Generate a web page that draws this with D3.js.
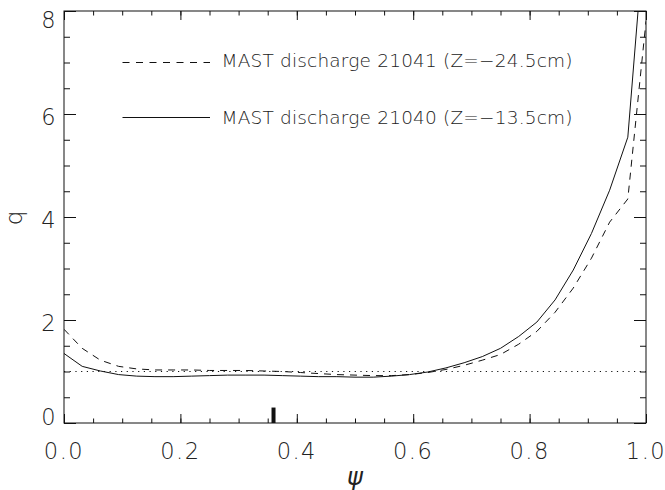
<!DOCTYPE html>
<html>
<head>
<meta charset="utf-8">
<script src="https://cdn.jsdelivr.net/npm/d3@7/dist/d3.min.js"></script>
<style>
  html, body { margin: 0; padding: 0; background: #fff; }
  svg { display: block; }
  text { font-family: "DejaVu Sans", sans-serif; font-weight: 200; fill: #222; }
</style>
</head>
<body>
<svg id="chart" width="665" height="490"></svg>
<script>
// Safety factor q against normalised flux psi, sampled on a 1/32 grid
const psi = d3.range(33).map(k => k / 32);

// MAST discharge 21041 (Z = -24.5 cm), drawn dashed
const q21041 = [
  1.82, 1.45, 1.22, 1.10, 1.05, 1.03, 1.03, 1.03, 1.02, 1.02, 1.02,
  1.01, 1.00, 0.98, 0.96, 0.94, 0.93, 0.92, 0.92, 0.94, 0.98, 1.04,
  1.12, 1.22, 1.33, 1.53, 1.78, 2.15, 2.62, 3.20, 3.90, 4.35, 7.80
];

// MAST discharge 21040 (Z = -13.5 cm), drawn solid
const q21040 = [
  1.35, 1.10, 1.01, 0.94, 0.91, 0.90, 0.90, 0.91, 0.92, 0.93, 0.93,
  0.93, 0.92, 0.91, 0.90, 0.90, 0.89, 0.89, 0.91, 0.94, 0.99, 1.07,
  1.17, 1.29, 1.45, 1.68, 1.96, 2.39, 2.97, 3.68, 4.52, 5.55, 9.90
];

const seriesNames = [
  "MAST discharge 21041 (Z=\u221224.5cm)",
  "MAST discharge 21040 (Z=\u221213.5cm)"
];

// Reference level q = 1 and the marker on the psi axis
const qRef = 1;
const markerPsi = 0.36;
const markerHeight = 0.3;

const xMajor = [0, 0.2, 0.4, 0.6, 0.8, 1.0];
const xMinor = d3.range(0, 1.0001, 0.05);
const yMajor = [0, 2, 4, 6, 8];
const yMinor = d3.range(0, 8.0001, 0.5);

const svg = d3.select("#chart");
const L = 64, R = 646, T = 11, B = 423;

const x = d3.scaleLinear().domain([0, 1]).range([L, R]);
const y = d3.scaleLinear().domain([0, 8]).range([B, T]);

const ink = "#111";

svg.append("defs").append("clipPath").attr("id", "plot")
  .append("rect").attr("x", L).attr("y", T).attr("width", R - L).attr("height", B - T);

// Inward-pointing ticks on all four sides
function ticks(axisFn, scale, values, size, tx, ty) {
  const g = svg.append("g")
    .attr("transform", `translate(${tx},${ty})`)
    .call(axisFn(scale).tickValues(values).tickSize(size).tickFormat(""));
  g.select(".domain").remove();
  g.selectAll(".tick line").attr("stroke", ink).attr("stroke-width", 1);
  return g;
}
ticks(d3.axisBottom, x, xMinor, -4.5, 0, B);
ticks(d3.axisBottom, x, xMajor, -9, 0, B);
ticks(d3.axisTop, x, xMinor, -4.5, 0, T);
ticks(d3.axisTop, x, xMajor, -9, 0, T);
ticks(d3.axisLeft, y, yMinor, -6, L, 0);
ticks(d3.axisLeft, y, yMajor, -12, L, 0);
ticks(d3.axisRight, y, yMinor, -6, R, 0);
ticks(d3.axisRight, y, yMajor, -12, R, 0);

// Frame
svg.append("rect")
  .attr("x", L).attr("y", T).attr("width", R - L).attr("height", B - T)
  .attr("fill", "none").attr("stroke", ink).attr("stroke-width", 1);

// Tick labels
svg.append("g").selectAll("text").data(xMajor).join("text")
  .attr("x", d => x(d)).attr("y", 458.5)
  .attr("text-anchor", "middle")
  .attr("font-size", 22.5)
  .attr("letter-spacing", 1.5)
  .text(d => d3.format(".1f")(d));

svg.append("g").selectAll("text").data(yMajor).join("text")
  .attr("x", 55.5)
  .attr("y", d => Math.max(20, Math.min(417, y(d) + 2.5)))
  .attr("dy", "0.36em")
  .attr("text-anchor", "end")
  .attr("font-size", 22.5)
  .text(d => d3.format("d")(d));

// Axis titles
svg.append("text")
  .attr("transform", "translate(17,218) rotate(-90)")
  .attr("text-anchor", "middle")
  .attr("dy", "0.2em")
  .attr("font-size", 23)
  .text("q");

svg.append("text")
  .attr("x", 355).attr("y", 485)
  .attr("text-anchor", "middle")
  .attr("font-size", 24)
  .attr("font-style", "italic")
  .text("\u03c8");

const plot = svg.append("g").attr("clip-path", "url(#plot)");

// q = 1 dotted reference
plot.append("line")
  .attr("x1", x(0)).attr("x2", x(1))
  .attr("y1", y(qRef)).attr("y2", y(qRef))
  .attr("stroke", ink).attr("stroke-width", 1)
  .attr("stroke-dasharray", "1.2,4.5");

const line = d3.line().x((d, i) => x(psi[i])).y(d => y(d));

plot.append("path").datum(q21041)
  .attr("d", line).attr("fill", "none")
  .attr("stroke", ink).attr("stroke-width", 1)
  .attr("stroke-dasharray", "7,6");

plot.append("path").datum(q21040)
  .attr("d", line).attr("fill", "none")
  .attr("stroke", ink).attr("stroke-width", 1);

// Marker on the psi axis
plot.append("rect")
  .attr("x", x(markerPsi) - 2).attr("width", 4)
  .attr("y", y(markerHeight)).attr("height", y(0) - y(markerHeight))
  .attr("fill", ink);

// Legend
const legendRows = [
  { name: seriesNames[0], dash: "7,6.5", ly: 62.5, ty: 67 },
  { name: seriesNames[1], dash: null, ly: 117.5, ty: 124 }
];
legendRows.forEach(r => {
  svg.append("line")
    .attr("x1", 122.5).attr("x2", 210)
    .attr("y1", r.ly).attr("y2", r.ly)
    .attr("stroke", ink).attr("stroke-width", 1)
    .attr("stroke-dasharray", r.dash);
  svg.append("text")
    .attr("x", 221.5).attr("y", r.ty)
    .attr("font-size", 18.5)
    .attr("textLength", 351)
    .attr("lengthAdjust", "spacing")
    .text(r.name);
});
</script>
</body>
</html>
